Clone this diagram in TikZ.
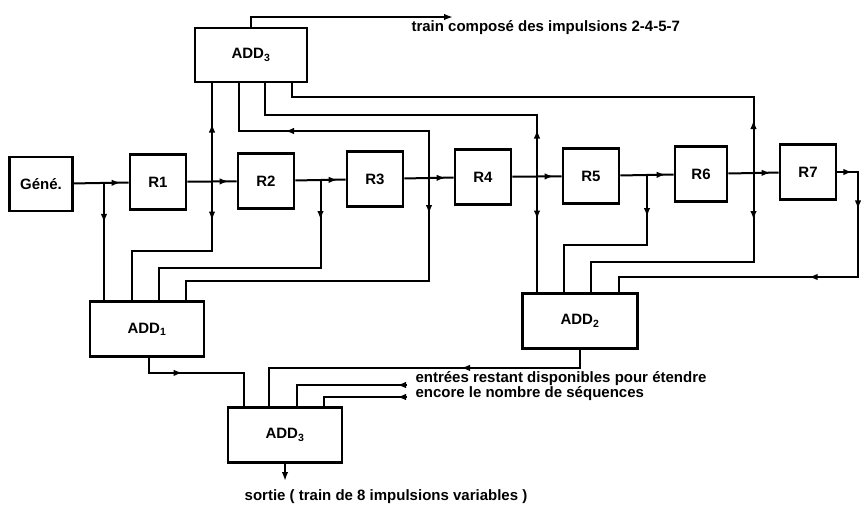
\documentclass[tikz,border=0pt]{standalone}
\usepackage{fontspec}
\setmainfont{Liberation Sans}
\usetikzlibrary{calc,arrows.meta,decorations.markings}

\begin{document}
\begin{tikzpicture}[x=1pt,y=-1pt,font=\fontsize{15}{17}\selectfont\bfseries,
  blk/.style={draw,line width=2.8pt,minimum width=56pt,minimum height=55pt,inner sep=0pt},
  wire/.style={line width=2pt},
  arr/.style={postaction={decorate,decoration={markings,mark=at position #1 with {\arrow{Latex[length=9pt,width=6.5pt]}}}}}]
\useasboundingbox (0,0) rectangle (862,507);
% registres
\node[blk,minimum width=63pt,minimum height=54pt] (gene) at (41,184) {Géné.};
\node[blk] (r1) at (158,182) {R1};
\node[blk] (r2) at (266,181) {R2};
\node[blk] (r3) at (375,179) {R3};
\node[blk] (r4) at (483,177) {R4};
\node[blk] (r5) at (591,176) {R5};
\node[blk,minimum width=52pt] (r6) at (701,174) {R6};
\node[blk] (r7) at (808,172) {R7};
% additionneurs
\node[blk,minimum width=112pt,minimum height=54pt] (add3t) at (251,55) {ADD\textsubscript{3}};
\node[blk,minimum width=114pt] (add1) at (147,329) {ADD\textsubscript{1}};
\node[blk,minimum width=115pt] (add2) at (580,321) {ADD\textsubscript{2}};
\node[blk,minimum width=114pt] (add3b) at (285,435) {ADD\textsubscript{3}};
% jonctions
\coordinate (j0) at ($(gene.east)!0.55!(r1.west)$);
\coordinate (j1) at ($(r1.east)!0.5!(r2.west)$);
\coordinate (j2) at ($(r2.east)!0.5!(r3.west)$);
\coordinate (j3) at ($(r3.east)!0.5!(r4.west)$);
\coordinate (j4) at ($(r4.east)!0.5!(r5.west)$);
\coordinate (j5) at ($(r5.east)!0.5!(r6.west)$);
\coordinate (j6) at ($(r6.east)!0.5!(r7.west)$);
\coordinate (edge) at (858,0);
\coordinate (tr) at (453,17);
\coordinate (in1) at (407,385);
\coordinate (in2) at (407,397);
\coordinate (out) at (285,481);
% chaine
\draw[wire,arr=-8pt] (gene) -- (r1);
\draw[wire,arr=-8pt] (r1) -- (r2);
\draw[wire,arr=-8pt] (r2) -- (r3);
\draw[wire,arr=-8pt] (r3) -- (r4);
\draw[wire,arr=-8pt] (r4) -- (r5);
\draw[wire,arr=-8pt] (r5) -- (r6);
\draw[wire,arr=-8pt] (r6) -- (r7);
\draw[wire,arr=15pt,arr=58pt,arr=175pt] (r7.east) -- (r7.east -| edge) -- ++(0,105) -| ([xshift=98]add2.north west);
% vers ADD1
\draw[wire,arr=40pt] (j0) -- (j0 |- add1.north);
\draw[wire,arr=39pt] (j1) -- ++(0,69) -| ([xshift=43]add1.north west);
\draw[wire,arr=40pt] (j2) -- ++(0,88) -| ([xshift=70]add1.north west);
\draw[wire,arr=36pt] (j3) -- ++(0,103) -| ([xshift=97]add1.north west);
% vers ADD2
\draw[wire,arr=43pt] (j4) -- (j4 |- add2.north);
\draw[wire,arr=42pt] (j5) -- ++(0,70) -| ([xshift=43]add2.north west);
\draw[wire,arr=47pt] (j6) -- ++(0,89) -| ([xshift=70]add2.north west);
% vers ADD3 du haut
\draw[wire,arr=58pt] (j1) -- (j1 |- add3t.south);
\draw[wire,arr=191pt] (j3) -- ++(0,-47) -| ([xshift=45]add3t.south west);
\draw[wire,arr=47pt] (j4) -- ++(0,-62) -| ([xshift=71]add3t.south west);
\draw[wire,arr=53pt] (j6) -- ++(0,-76) -| ([xshift=98]add3t.south west);
\draw[wire,-{Latex[length=9pt,width=6.5pt]}] (add3t.north) |- (tr);
\node[anchor=west] (ttrain) at (408,28) {train composé des impulsions 2-4-5-7};
% vers ADD3 du bas
\draw[wire,arr=49pt] ([xshift=60]add1.south west) -- ++(0,15) -| ([xshift=17]add3b.north west);
\draw[wire,arr=137pt] (add2.south) -- ++(0,18) -| ([xshift=42]add3b.north west);
\draw[wire,arr=10pt] (in1) -| ([xshift=70]add3b.north west);
\draw[wire,arr=10pt] (in2) -| ([xshift=97]add3b.north west);
\node[anchor=west] (tin1) at (412,379) {entrées restant disponibles pour étendre};
\node[anchor=west] (tin2) at (412,394) {encore le nombre de séquences};
\draw[wire,-{Latex[length=9pt,width=6.5pt]}] (add3b.south) -- (out);
\node (tout) at (386,497) {sortie ( train de 8 impulsions variables )};
\end{tikzpicture}
\end{document}
